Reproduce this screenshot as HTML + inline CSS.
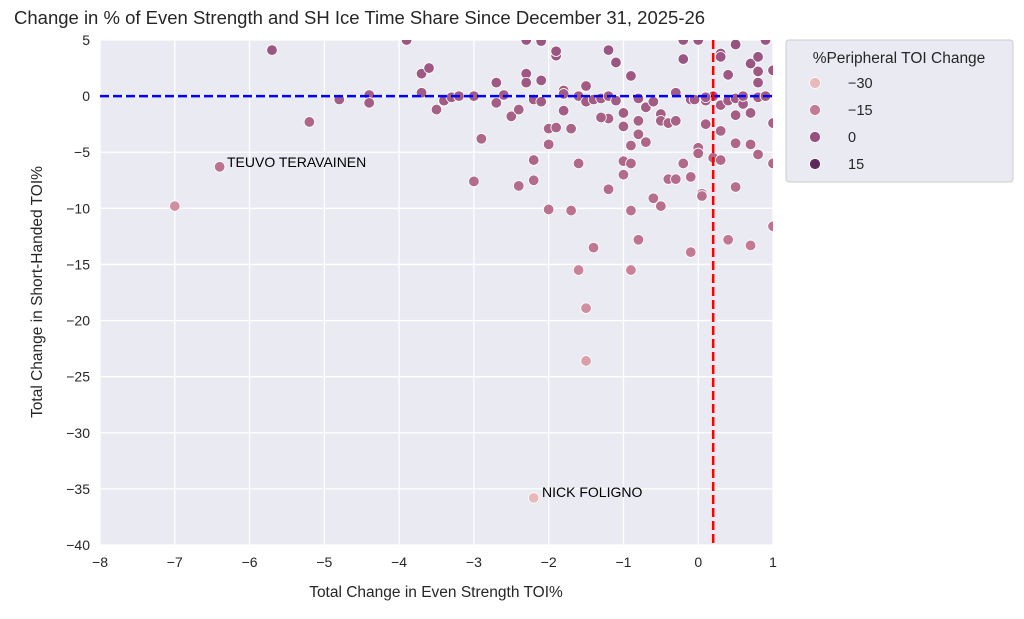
<!DOCTYPE html>
<html><head><meta charset="utf-8"><style>
body{margin:0;background:#fff;font-family:"Liberation Sans",Arial,sans-serif}
</style></head><body>
<svg id="chart" width="1024" height="614" xmlns="http://www.w3.org/2000/svg" font-family="Liberation Sans, Arial, sans-serif">
<text x="14" y="24" font-size="18.5" fill="#262626">Change in % of Even Strength and SH Ice Time Share Since December 31, 2025-26</text>
<defs><clipPath id="pc"><rect x="100" y="40" width="673" height="505"/></clipPath></defs>
<rect x="100" y="40" width="673" height="505" fill="#eaeaf2"/>
<g id="grid"></g>
<g id="ticks"></g>
<g id="pts" clip-path="url(#pc)"></g>
<g id="refs" clip-path="url(#pc)"></g>
<text x="227" y="167" font-size="14" fill="#000">TEUVO TERAVAINEN</text>
<text x="542" y="497" font-size="14" fill="#000">NICK FOLIGNO</text>
<text x="436" y="597" font-size="15.5" fill="#262626" text-anchor="middle">Total Change in Even Strength TOI%</text>
<text transform="translate(42,292) rotate(-90)" font-size="15.5" fill="#262626" text-anchor="middle">Total Change in Short-Handed TOI%</text>
<g>
<rect x="786" y="40" width="227" height="142" rx="3" fill="#eaeaf2" stroke="#cccccc"/>
<text x="899" y="63" font-size="15.5" fill="#262626" text-anchor="middle">%Peripheral TOI Change</text>
<g id="leg"></g>
</g>
</svg>
<script>
const xTicks=[-8,-7,-6,-5,-4,-3,-2,-1,0,1];
const yTicks=[5,0,-5,-10,-15,-20,-25,-30,-35,-40];
const legendValues=[-30,-15,0,15];
const xs=[-7.0,-6.4,-5.7,-5.2,-4.8,-4.4,-4.4,-3.9,-3.7,-3.6,-3.7,-3.5,-3.4,-3.3,-3.2,-3.0,-2.9,-3.0,-2.7,-2.7,-2.5,-2.4,-2.4,-2.3,-2.3,-2.3,-2.2,-2.2,-2.2,-2.1,-2.1,-2.1,-2.0,-2.0,-2.0,-1.9,-1.9,-1.9,-1.8,-1.8,-1.8,-1.7,-1.7,-1.6,-1.6,-1.6,-1.5,-1.5,-1.5,-1.5,-1.4,-1.4,-1.3,-1.2,-1.2,-1.2,-1.2,-1.1,-1.0,-1.0,-1.0,-1.0,-0.9,-0.9,-0.9,-0.9,-0.9,-0.8,-0.8,-0.8,-0.8,-0.7,-0.7,-0.6,-0.6,-0.5,-0.5,-0.5,-0.4,-0.4,-0.3,-0.3,-0.3,-0.2,-0.2,-0.2,-0.1,-0.1,-0.1,0,0,0,0.05,0.05,0.1,0.1,0.2,0.2,0.3,0.3,0.3,0.3,0.3,0.4,0.4,0.4,0.5,0.5,0.5,0.5,0.5,0.6,0.6,0.7,0.7,0.7,0.7,0.8,0.8,0.8,0.8,0.8,0.9,0.9,1.0,1.0,1.0,1.0,-2.2,0.1,-0.05,-1.1,-1.3,-2.6];
const ys=[-9.8,-6.3,4.1,-2.3,-0.3,0.1,-0.6,5,2.0,2.5,0.3,-1.2,-0.4,-0.1,0,0,-3.8,-7.6,1.2,-0.6,-1.8,-1.2,-8.0,5,2.0,1.2,-0.3,-5.7,-7.5,1.4,4.9,-0.5,-10.1,-2.9,-4.3,-2.8,3.6,4.0,0.5,-1.3,0.2,-2.9,-10.2,-6.0,-15.5,0,0.9,-0.5,-18.9,-23.6,-13.5,-0.3,-0.2,4.1,0,-2.0,-8.3,3.0,-1.5,-2.7,-5.8,-7.0,-4.4,-6.0,-10.2,-15.5,1.8,-0.2,-12.8,-2.2,-3.4,-1.0,-4.1,-0.5,-9.1,-9.8,-1.6,-2.2,-7.4,-2.4,-7.4,-2.2,0.3,3.3,5,-6.0,-13.9,-7.2,-0.3,-4.6,-5.1,5,-8.7,-8.9,-2.5,-0.4,0,-5.5,3.8,3.5,-3.1,-5.7,-0.8,1.9,-12.8,-0.4,4.6,-0.2,-1.7,-4.2,-8.1,-0.7,0,2.9,-1.5,-4.3,-13.3,3.5,2.2,1.2,-0.1,-5.2,5,0,2.3,-2.4,-6.0,-11.6,-35.8,-0.1,-0.3,-0.4,-1.9,0.1];
const cs=[-20,-12,-2,-8,-5,-5,-5,-2,-3,-3,-4,-6,-4,-4,-4,-4,-8,-10,-3,-5,-6,-6,-10,-2,-3,-3,-4,-8,-10,-3,-2,-4,-12,-7,-8,-7,-2,-2,-4,-5,-4,-7,-12,-9,-17,-4,-4,-4,-20,-24,-14,-4,-4,-2,-4,-6,-10,-2,-5,-6,-9,-10,-8,-9,-12,-17,-3,-4,-13,-6,-7,-5,-8,-4,-11,-11,-5,-6,-10,-6,-10,-6,-4,-2,-2,-9,-15,-10,-4,-8,-8,-2,-11,-11,-6,-4,-4,-9,-2,-2,-7,-9,-5,-3,-14,-4,-1,-4,-5,-8,-11,-4,-4,-2,-5,-8,-15,-2,-3,-3,-4,-8,-2,-4,-3,-6,-9,-13,-30,-4,-4,-4,-6,-4];
const NS='http://www.w3.org/2000/svg';
const X=v=>100+(v+8)*673/9, Y=v=>40+(5-v)*505/45;
const stops=[[-30,[232,185,184]],[-15,[196,122,146]],[0,[148,80,127]],[15,[94,42,92]]];
function col(c){c=Math.max(-30,Math.min(15,c));for(let i=0;i<3;i++){const a=stops[i],b=stops[i+1];if(c<=b[0]){const t=(c-a[0])/(b[0]-a[0]);return 'rgb('+a[1].map((q,k)=>Math.round(q+(b[1][k]-q)*t)).join(',')+')';}}}
function mk(tag,at,parent){const e=document.createElementNS(NS,tag);for(const k in at)e.setAttribute(k,at[k]);parent.appendChild(e);return e;}
const grid=document.getElementById('grid'),ticks=document.getElementById('ticks');
xTicks.forEach(v=>{const l=mk('line',{x1:X(v),x2:X(v),y1:40,y2:545,stroke:'#fff','stroke-width':1.3},grid);


const t=mk('text',{x:X(v),y:567,'font-size':14,fill:'#262626','text-anchor':'middle'},ticks);t.textContent=v<0?'\u2212'+(-v):v;

});
yTicks.forEach(v=>{const l=mk('line',{x1:100,x2:773,y1:Y(v),y2:Y(v),stroke:'#fff','stroke-width':1.3},grid);


const t=mk('text',{x:90,y:Y(v)+5,'font-size':14,fill:'#262626','text-anchor':'end'},ticks);t.textContent=v<0?'\u2212'+(-v):v;

});
const pts=document.getElementById('pts');
xs.forEach((x,i)=>{const c=mk('circle',{cx:X(x),cy:Y(ys[i]),r:5.3,fill:col(cs[i]),stroke:'#fff','stroke-width':0.8},pts);

});
const refs=document.getElementById('refs');
const h=mk('line',{x1:100,x2:773,y1:Y(0),y2:Y(0),stroke:'#0000ff','stroke-width':2.5,'stroke-dasharray':'9,4'},refs);


const vl=mk('line',{x1:X(0.2),x2:X(0.2),y1:40,y2:545,stroke:'#ff0000','stroke-width':2.5,'stroke-dasharray':'9,4'},refs);


const leg=document.getElementById('leg');
legendValues.forEach((v,i)=>{const y=83+i*27;
const c=mk('circle',{cx:815,cy:y,r:5.5,fill:col(v),stroke:'#fff','stroke-width':0.8},leg);


const t=mk('text',{x:848,y:y+5,'font-size':14.5,fill:'#262626'},leg);t.textContent=v<0?'\u2212'+(-v):v;

});
</script>
</body></html>
